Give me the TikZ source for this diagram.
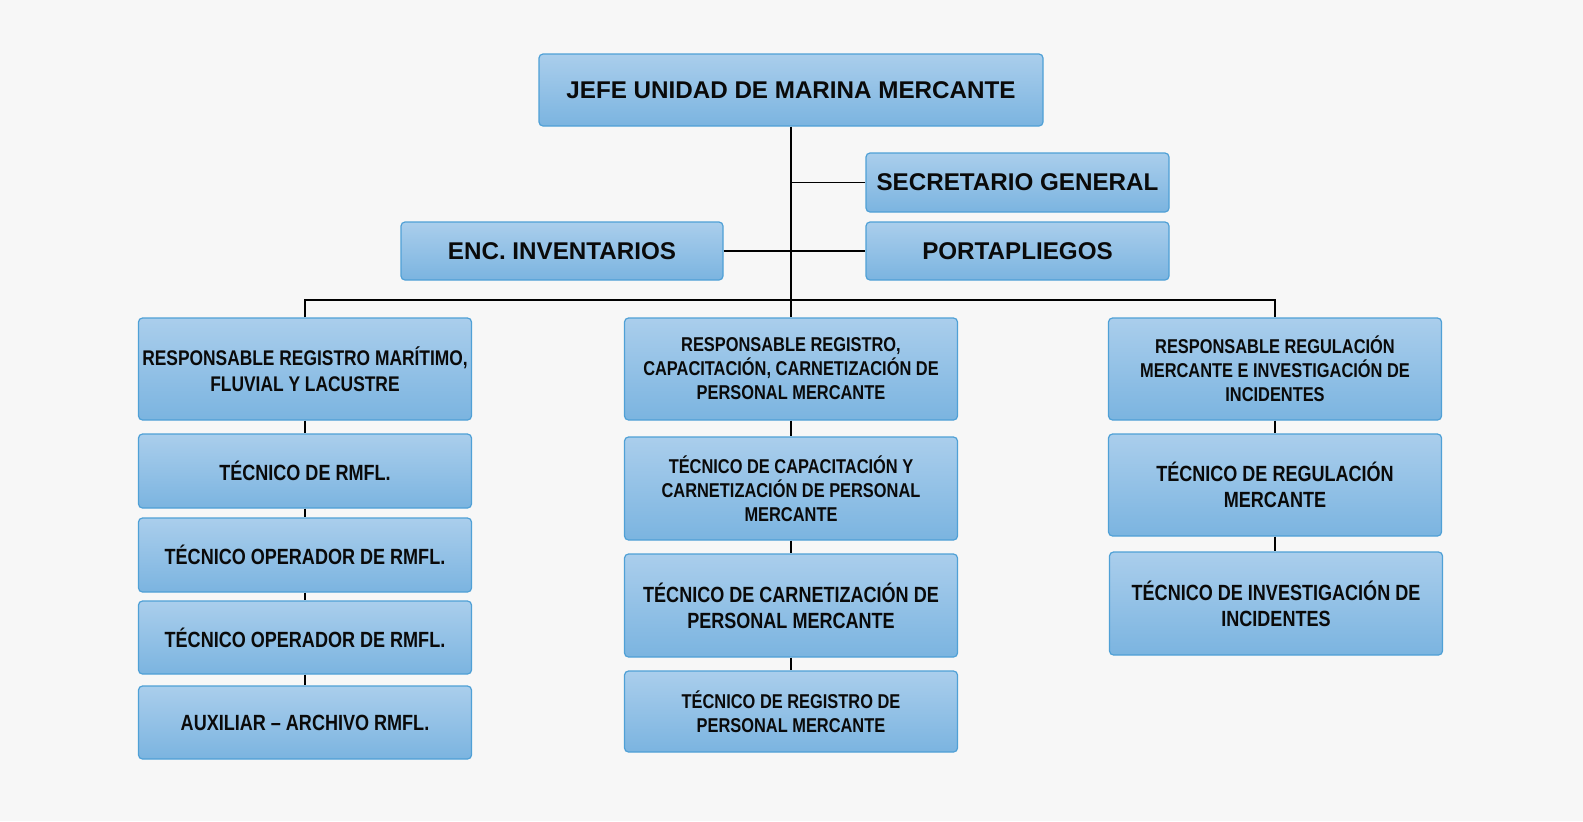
\documentclass[tikz,border=0pt]{standalone}
\usepackage{fontspec}
\setmainfont{Liberation Sans}
\newfontfamily\condf[FakeStretch=0.82]{Liberation Sans}
\definecolor{bgc}{HTML}{F7F7F7}
\definecolor{boxtop}{HTML}{AACEEC}
\definecolor{boxbot}{HTML}{7BB4E0}
\definecolor{boxline}{HTML}{4FA0D6}
\definecolor{txt}{HTML}{0A0A0A}
\begin{document}
\begin{tikzpicture}[x=0.5pt,y=-0.5pt]
\tikzset{
  box/.style={draw=boxline, line width=0.6pt, rounded corners=2pt,
    top color=boxtop, bottom color=boxbot, text=txt, align=center,
    inner sep=0pt, font=\bfseries},
  sz/.style 2 args={minimum width=#1*0.5pt, minimum height=#2*0.5pt},
  topt/.style={font=\fontsize{12.1}{14}\selectfont\bfseries},
  bigt/.style={font=\condf\fontsize{11}{13}\selectfont\bfseries},
  midt/.style={font=\condf\fontsize{10.6}{12.75}\selectfont\bfseries},
  smallt/.style={font=\condf\fontsize{10}{12}\selectfont\bfseries},
  link/.style={draw=black, line width=0.65pt}
}
\fill[bgc] (0,0) rectangle (1583,821);
\useasboundingbox (0,0) rectangle (1583,821);

% top level
\node[box, topt, sz={504}{72}] (jefe) at (791,90) {JEFE UNIDAD DE MARINA MERCANTE};
\node[box, topt, sz={303}{59}] (sec) at (1017.5,182.5) {SECRETARIO GENERAL};
\node[box, topt, sz={303}{58}] (port) at (1017.5,251) {PORTAPLIEGOS};
\node[box, topt, sz={322}{58}] (enc) at (562,251) {ENC. INVENTARIOS};

% left column
\node[box, midt, sz={333}{102}] (l1) at (305,369) {RESPONSABLE REGISTRO MARÍTIMO,\\FLUVIAL Y LACUSTRE};
\node[box, bigt, sz={333}{74}] (l2) at (305,471) {TÉCNICO DE RMFL.};
\node[box, bigt, sz={333}{74}] (l3) at (305,555) {TÉCNICO OPERADOR DE RMFL.};
\node[box, bigt, sz={333}{73}] (l4) at (305,637.5) {TÉCNICO OPERADOR DE RMFL.};
\node[box, bigt, sz={333}{73}] (l5) at (305,722.5) {AUXILIAR – ARCHIVO RMFL.};

% middle column
\node[box, smallt, sz={333}{102}] (m1) at (791,369) {RESPONSABLE REGISTRO,\\CAPACITACIÓN, CARNETIZACIÓN DE\\PERSONAL MERCANTE};
\node[box, smallt, sz={333}{103}] (m2) at (791,488.5) {TÉCNICO DE CAPACITACIÓN Y\\CARNETIZACIÓN DE PERSONAL\\MERCANTE};
\node[box, bigt, sz={333}{103}] (m3) at (791,605.5) {TÉCNICO DE CARNETIZACIÓN DE\\PERSONAL MERCANTE};
\node[box, smallt, sz={333}{81}] (m4) at (791,711.5) {TÉCNICO DE REGISTRO DE\\PERSONAL MERCANTE};

% right column
\node[box, smallt, sz={333}{102}] (r1) at (1275,369) {RESPONSABLE REGULACIÓN\\MERCANTE E INVESTIGACIÓN DE\\INCIDENTES};
\node[box, bigt, sz={333}{102}] (r2) at (1275,485) {TÉCNICO DE REGULACIÓN\\MERCANTE};
\node[box, bigt, sz={333}{103}] (r3) at (1276,603.5) {TÉCNICO DE INVESTIGACIÓN DE\\INCIDENTES};

\coordinate (bar) at (791,300);

% connectors
\draw[link] (jefe.south) -- (m1.north);
\draw[link] (sec.west) -- (sec.west -| jefe.south);
\draw[link] (enc.east) -- (port.west);
\draw[link] (l1.north) |- (bar) -| (r1.north);
\draw[link] (l1.south) -- (l2.north);
\draw[link] (l2.south) -- (l3.north);
\draw[link] (l3.south) -- (l4.north);
\draw[link] (l4.south) -- (l5.north);
\draw[link] (m1.south) -- (m2.north);
\draw[link] (m2.south) -- (m3.north);
\draw[link] (m3.south) -- (m4.north);
\draw[link] (r1.south) -- (r2.north);
\draw[link] (r2.south) -- (r3.north -| r2.south);
\end{tikzpicture}
\end{document}
